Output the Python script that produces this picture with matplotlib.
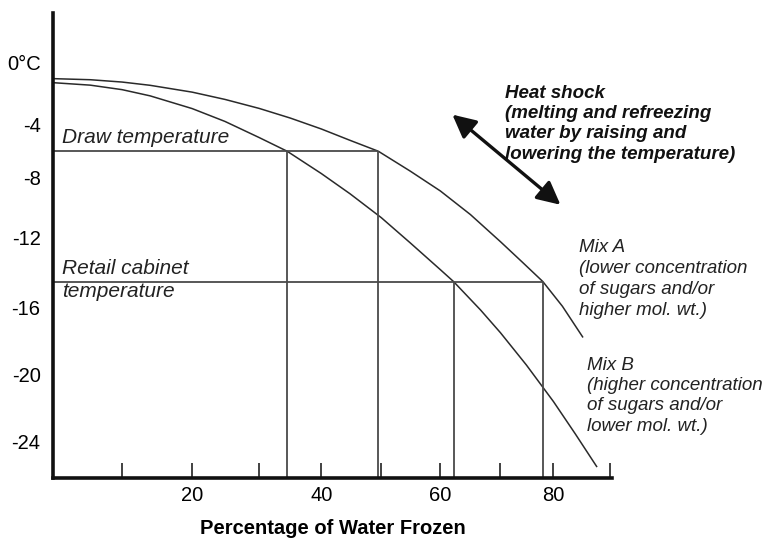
import numpy as np
import matplotlib
matplotlib.use('Agg')
import matplotlib.pyplot as plt

plt.rcParams['font.family'] = ['Liberation Sans', 'DejaVu Sans']

# freezing curves (percentage of water frozen vs temperature)
mix_a_pct = [0, 5.4, 10, 14, 20, 24.9, 30, 35, 40, 44.8, 49.5, 54.9, 60, 65, 70,
             74.2, 78, 81.6, 85.2]
mix_a_temp = [-1.03, -1.1, -1.25, -1.46, -1.9, -2.37, -2.95, -3.57, -4.32, -5.18,
              -6.0, -7.5, -8.88, -10.45, -12.22, -13.41, -14.5, -15.91, -17.73]

mix_b_pct = [0, 5.4, 10, 14, 20, 24.9, 30, 34.5, 40, 44.8, 50, 54.9, 60, 62.2,
             66.7, 70, 74.9, 80, 83.9, 87.7]
mix_b_temp = [-1.29, -1.45, -1.74, -2.14, -2.96, -3.79, -4.97, -6.0, -7.68, -9.07,
              -10.66, -12.29, -13.82, -14.5, -16.13, -17.48, -19.41, -21.59, -23.52,
              -25.46]

draw_temp = -6.0
draw_pct = [34.5, 49.5]      # Mix B, Mix A
retail_temp = -14.5
retail_pct = [62.2, 78.0]    # Mix B, Mix A

x_ticks = [20, 40, 60, 80]
x_minor = [10, 30, 50, 70, 90]
y_ticks = [-24, -20, -16, -12, -8, -4, 0]
y_labels = ['-24', '-20', '-16', '-12', '-8', '-4', '0°C']

# the original axes are hand drawn, not evenly spaced: calibrate them
x_cal = ([0, 10, 20, 30, 40, 50, 60, 70, 80, 90],
         [53, 122, 192, 259, 321, 381, 440, 500, 553, 609])
y_cal = ([-24, -20, -16, -12, -8, -4, 0],
         [-442, -375, -308, -238, -178, -125, -63])


def piecewise(vals, marks):
    vals = np.asarray(vals, float)
    marks = np.asarray(marks, float)

    def make(a, b):
        s0 = (b[1] - b[0]) / (a[1] - a[0])
        s1 = (b[-1] - b[-2]) / (a[-1] - a[-2])

        def f(v):
            v = np.asarray(v, float)
            out = np.interp(v, a, b)
            out = np.where(v < a[0], b[0] + (v - a[0]) * s0, out)
            out = np.where(v > a[-1], b[-1] + (v - a[-1]) * s1, out)
            return out
        return f
    return make(vals, marks), make(marks, vals)


fig = plt.figure(figsize=(7.63, 5.38), dpi=100)
ax = fig.add_axes([0.0695, 0.1115, 0.733, 0.8643])
ax.set_xscale('function', functions=piecewise(*x_cal))
ax.set_yscale('function', functions=piecewise(*y_cal))
ax.set_xlim(0, 90.5)
ax.set_ylim(-26.15, 3.2)

curve_col = '#2a2a2a'
guide_col = '#4a4a4a'
ax.plot(mix_a_pct, mix_a_temp, color=curve_col, lw=1.1)
ax.plot(mix_b_pct, mix_b_temp, color=curve_col, lw=1.1)

ybot = ax.get_ylim()[0]
ax.hlines(draw_temp, 0, max(draw_pct), color=guide_col, lw=1.3)
ax.hlines(retail_temp, 0, max(retail_pct), color=guide_col, lw=1.3)
ax.vlines(draw_pct, ybot, draw_temp, color=guide_col, lw=1.3)
ax.vlines(retail_pct, ybot, retail_temp, color=guide_col, lw=1.3)

for s in ['top', 'right']:
    ax.spines[s].set_visible(False)
for s in ['left', 'bottom']:
    ax.spines[s].set_linewidth(2.6)
    ax.spines[s].set_color('#111111')

ax.set_xticks(x_ticks)
ax.set_xticklabels([str(t) for t in x_ticks])
ax.set_xticks(x_minor, minor=True)
ax.tick_params(axis='x', which='both', direction='in', length=11, width=1.3,
               color='#333333', labelsize=14.5, pad=6)
ax.set_yticks(y_ticks)
ax.set_yticklabels(y_labels)
ax.tick_params(axis='y', length=0, labelsize=14.5, pad=9)

ax.set_xlabel('Percentage of Water Frozen', fontsize=14.5, fontweight='bold',
              labelpad=10)

ax.text(1.3, -4.98, 'Draw temperature', fontsize=15, style='italic',
        va='center', ha='left', color='#222222')
ax.text(1.3, -14.4, 'Retail cabinet\ntemperature', fontsize=15, style='italic',
        va='center', ha='left', color='#222222', linespacing=1.3)

ax.text(70.9, -3.94, 'Heat shock\n(melting and refreezing\nwater by raising and\nlowering the temperature)',
        fontsize=13.5, style='italic', fontweight='bold', va='center', ha='left',
        color='#111111', linespacing=1.25)
ax.text(84.5, -14.34, 'Mix A\n(lower concentration\nof sugars and/or\nhigher mol. wt.)',
        fontsize=13.5, style='italic', va='center', ha='left', color='#222222',
        linespacing=1.3, clip_on=False)
ax.text(85.9, -21.25, 'Mix B\n(higher concentration\nof sugars and/or\nlower mol. wt.)',
        fontsize=13.5, style='italic', va='center', ha='left', color='#222222',
        linespacing=1.25, clip_on=False)

ax.annotate('', xy=(62.0, -3.35), xytext=(81.25, -9.8),
            arrowprops=dict(arrowstyle='<|-|>,head_length=0.7,head_width=0.35',
                            lw=2.4, color='#111111', mutation_scale=20,
                            shrinkA=0, shrinkB=0))

fig.savefig('out.png', dpi=100)
